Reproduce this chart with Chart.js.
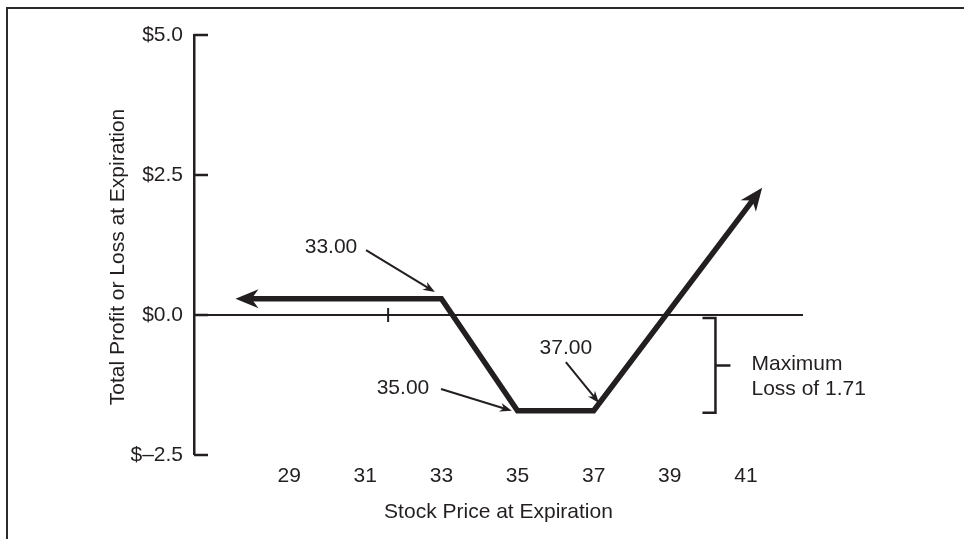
<!DOCTYPE html>
<html>
<head>
<meta charset="utf-8">
<script src="https://cdn.jsdelivr.net/npm/chart.js@4/dist/chart.umd.min.js"></script>
<style>
    html, body { margin: 0; padding: 0; background: #fff; }
    #wrap { position: relative; width: 964px; height: 539px; }
    #frame {
        position: absolute; left: 6px; top: 7px; right: -4px; bottom: -4px;
        border-top: 2.5px solid #2b2b2b; border-left: 2.5px solid #2b2b2b;
        pointer-events: none;
    }
</style>
</head>
<body>
<div id="wrap">
    <canvas id="payoffChart" width="964" height="539"></canvas>
    <div id="frame"></div>
</div>
<script>
// payoff at expiration (stock price -> profit/loss)
const stockPrices = [27.8, 33, 35, 37, 41.3];
const profitLoss = [0.29, 0.29, -1.71, -1.71, 2.16];
const xTickValues = [29, 31, 33, 35, 37, 39, 41];
const yTickValues = [-2.5, 0, 2.5, 5];
const zeroLineMarks = [31.6];
const maxLoss = 1.71;

// callouts: label position and arrow, in chart units
const callouts = [
    { text: '33.00', x: 30.1, y: 1.21, fromX: 31.02, fromY: 1.16, toX: 32.83, toY: 0.41 },
    { text: '35.00', x: 31.99, y: -1.31, fromX: 32.99, fromY: -1.32, toX: 34.85, toY: -1.71 },
    { text: '37.00', x: 36.27, y: -0.6, fromX: 36.27, fromY: -0.84, toX: 37.14, toY: -1.57 }
];
const bracketX = 40.2;
const bracketLines = ['Maximum', 'Loss of 1.71'];

const ink = '#231f20';
const fontFamily = '"Liberation Sans", Arial, Helvetica, sans-serif';

function arrowHead(ctx, x0, y0, x1, y1, len, half, extend) {
    const dx = x1 - x0, dy = y1 - y0;
    const d = Math.hypot(dx, dy);
    const ux = dx / d, uy = dy / d;
    const tx = x1 + ux * extend, ty = y1 + uy * extend;
    const bx = tx - ux * len, by = ty - uy * len;
    ctx.beginPath();
    ctx.moveTo(tx, ty);
    ctx.lineTo(bx - uy * half, by + ux * half);
    ctx.lineTo(tx - ux * len * 0.7, ty - uy * len * 0.7);
    ctx.lineTo(bx + uy * half, by - ux * half);
    ctx.closePath();
    ctx.fill();
}

const extrasPlugin = {
    id: 'extras',
    afterDatasetsDraw(chart) {
        const ctx = chart.ctx;
        const xs = chart.scales.x, ys = chart.scales.y;
        const area = chart.chartArea;
        ctx.save();
        ctx.fillStyle = ink;
        ctx.strokeStyle = ink;

        // inward ticks on the y axis
        ctx.lineWidth = 2.5;
        yTickValues.forEach(v => {
            const py = ys.getPixelForValue(v);
            ctx.beginPath();
            ctx.moveTo(area.left, py);
            ctx.lineTo(area.left + 14, py);
            ctx.stroke();
        });

        // arrow heads at both ends of the payoff line
        const n = stockPrices.length;
        const px = i => xs.getPixelForValue(stockPrices[i]);
        const py = i => ys.getPixelForValue(profitLoss[i]);
        arrowHead(ctx, px(1), py(1), px(0), py(0), 23, 9.5, 8);
        arrowHead(ctx, px(n - 2), py(n - 2), px(n - 1), py(n - 1), 23, 9.5, 8);

        // callouts
        ctx.font = '21px ' + fontFamily;
        ctx.textAlign = 'center';
        ctx.textBaseline = 'middle';
        callouts.forEach(c => {
            ctx.fillText(c.text, xs.getPixelForValue(c.x), ys.getPixelForValue(c.y));
            const x0 = xs.getPixelForValue(c.fromX), y0 = ys.getPixelForValue(c.fromY);
            const x1 = xs.getPixelForValue(c.toX), y1 = ys.getPixelForValue(c.toY);
            const d = Math.hypot(x1 - x0, y1 - y0);
            ctx.lineWidth = 2;
            ctx.beginPath();
            ctx.moveTo(x0, y0);
            ctx.lineTo(x1 - (x1 - x0) / d * 7, y1 - (y1 - y0) / d * 7);
            ctx.stroke();
            arrowHead(ctx, x0, y0, x1, y1, 12, 4.5, 0);
        });

        // maximum loss bracket
        const bx = xs.getPixelForValue(bracketX);
        const top = ys.getPixelForValue(0) + 3;
        const bottom = ys.getPixelForValue(-maxLoss) + 2;
        const mid = (top + bottom) / 2;
        ctx.lineWidth = 2.5;
        ctx.beginPath();
        ctx.moveTo(bx - 13, top);
        ctx.lineTo(bx, top);
        ctx.lineTo(bx, bottom);
        ctx.lineTo(bx - 13, bottom);
        ctx.moveTo(bx, mid);
        ctx.lineTo(bx + 15, mid);
        ctx.stroke();
        ctx.textAlign = 'left';
        ctx.fillText(bracketLines[0], bx + 36, mid - 1.5);
        ctx.fillText(bracketLines[1], bx + 36, mid + 23.5);

        // y axis title
        ctx.translate(118, (area.top + area.bottom) / 2 + 12);
        ctx.rotate(-Math.PI / 2);
        ctx.textAlign = 'center';
        ctx.fillText('Total Profit or Loss at Expiration', 0, 0);
        ctx.restore();
    }
};

const ctx = document.getElementById('payoffChart').getContext('2d');
const payoffChart = new Chart(ctx, {
    type: 'scatter',
    data: {
        datasets: [{
            data: stockPrices.map((p, i) => ({ x: p, y: profitLoss[i] })),
            showLine: true,
            borderColor: ink,
            borderWidth: 5.5,
            borderJoinStyle: 'miter',
            pointRadius: 0
        }, {
            data: zeroLineMarks.map(p => ({ x: p, y: 0 })),
            showLine: false,
            pointStyle: 'line',
            rotation: 90,
            pointRadius: 7,
            borderColor: ink,
            borderWidth: 2
        }]
    },
    options: {
        responsive: false,
        animation: false,
        devicePixelRatio: 1,
        layout: { padding: { top: 35, right: 161, bottom: 0, left: 0 } },
        plugins: {
            legend: { display: false },
            tooltip: { enabled: false }
        },
        scales: {
            x: {
                type: 'linear',
                min: 26.5,
                max: 42.5,
                afterBuildTicks: s => { s.ticks = xTickValues.map(v => ({ value: v })); },
                afterFit: s => { s.height = 84; },
                grid: { display: false, drawTicks: false },
                border: { display: false },
                ticks: { color: ink, padding: 9, font: { size: 21, family: fontFamily } },
                title: {
                    display: true,
                    text: 'Stock Price at Expiration',
                    color: ink,
                    font: { size: 21, family: fontFamily },
                    padding: { top: 0, bottom: 14 }
                }
            },
            y: {
                min: -2.5,
                max: 5,
                afterBuildTicks: s => { s.ticks = yTickValues.map(v => ({ value: v })); },
                afterFit: s => { s.width = 194; },
                grid: {
                    drawTicks: false,
                    color: c => c.tick && c.tick.value === 0 ? ink : 'rgba(0,0,0,0)',
                    lineWidth: c => c.tick && c.tick.value === 0 ? 2 : 0
                },
                border: { display: true, color: ink, width: 2.5 },
                ticks: {
                    color: ink,
                    padding: 11,
                    font: { size: 21, family: fontFamily },
                    callback: v => v < 0 ? '$\u2013' + Math.abs(v).toFixed(1) : '$' + v.toFixed(1)
                }
            }
        }
    },
    plugins: [extrasPlugin]
});
</script>
</body>
</html>
